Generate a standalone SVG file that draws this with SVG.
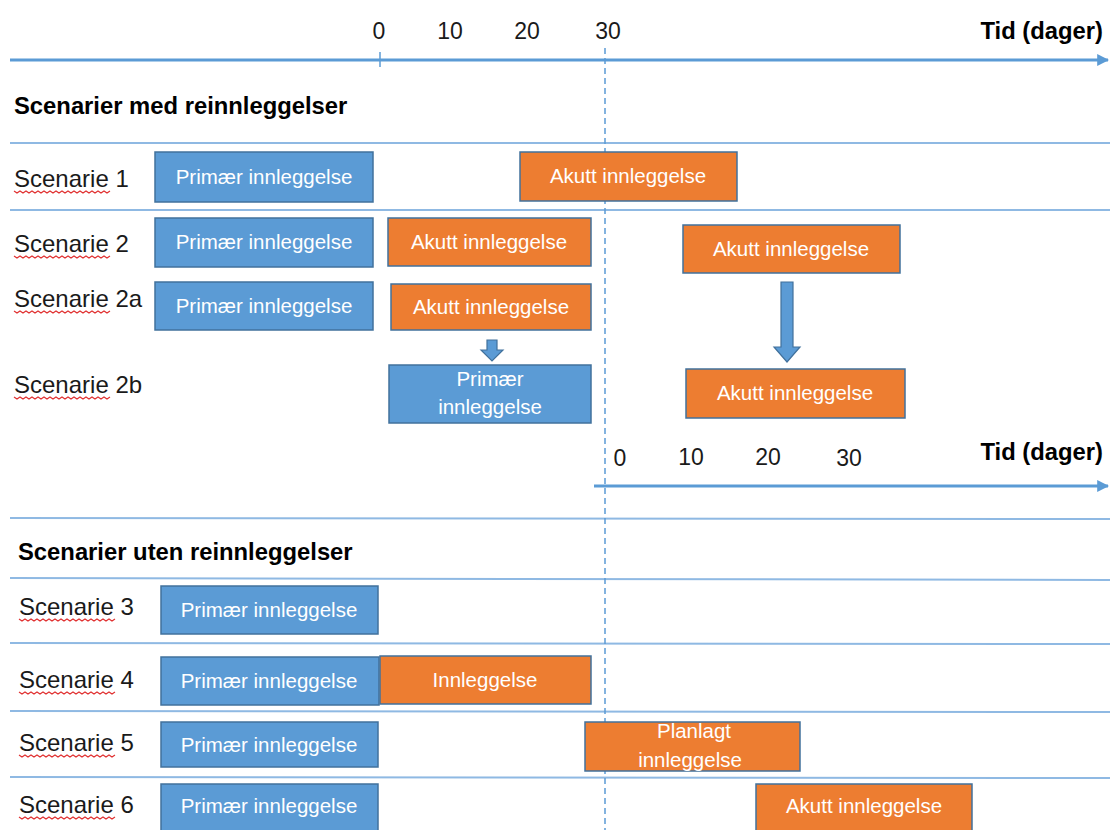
<svg xmlns="http://www.w3.org/2000/svg" xmlns:xlink="http://www.w3.org/1999/xlink" width="1110" height="830" viewBox="0 0 1110 830">
<style>
.axis{stroke:#5b9bd5;stroke-width:3;fill:none}
.sep{stroke:#8fb9e3;stroke-width:2;fill:none}
.dash{stroke:#5b9bd5;stroke-width:1.5;stroke-dasharray:6 4;fill:none}
.blue{fill:#5b9bd5;stroke:#41719c;stroke-width:1.5}
.orange{fill:#ed7d31;stroke:#41719c;stroke-width:1.5}
.bt{font-family:"Liberation Sans",Arial,sans-serif;font-size:20.5px;fill:#ffffff;text-anchor:middle}
.lbl{font-family:"Liberation Sans",Arial,sans-serif;font-size:24px;fill:#1a1a1a}
.tick{font-family:"Liberation Sans",Arial,sans-serif;font-size:23px;fill:#1a1a1a;text-anchor:middle}
.hd{font-family:"Liberation Sans",Arial,sans-serif;font-size:23.8px;font-weight:bold;fill:#000}
.wavy{stroke:#e03030;stroke-width:1.2;fill:none}
.barrow{fill:#5b9bd5;stroke:#41719c;stroke-width:1.2}
</style>
<defs>
<marker id="ah" viewBox="0 0 10 10" refX="9" refY="5" markerWidth="4" markerHeight="4" orient="auto">
<path d="M0,0 L10,5 L0,10 z" fill="#5b9bd5"/>
</marker>
<path id="wv" class="wavy" d="M0,0 l3,2 l3,-2 l3,2 l3,-2 l3,2 l3,-2 l3,2 l3,-2 l3,2 l3,-2 l3,2 l3,-2 l3,2 l3,-2 l3,2 l3,-2 l3,2 l3,-2 l3,2 l3,-2 l3,2 l3,-2 l3,2 l3,-2 l3,2 l3,-2 l3,2 l3,-2 l3,2 l3,-2 l3,2 l3,-2"/>
</defs>
<rect width="1110" height="830" fill="#ffffff"/>

<g id="axes">
<line class="axis" x1="10" y1="60" x2="1108" y2="60" marker-end="url(#ah)"/>
<line x1="380" y1="52" x2="380" y2="67" stroke="#5b9bd5" stroke-width="1.5"/>
<text class="tick" x="379" y="39">0</text>
<text class="tick" x="450" y="39">10</text>
<text class="tick" x="527" y="39">20</text>
<text class="tick" x="608" y="39">30</text>
<text class="hd" x="1103" y="39" text-anchor="end">Tid (dager)</text>
<line class="axis" x1="594" y1="486" x2="1108" y2="486" marker-end="url(#ah)"/>
<text class="tick" x="620" y="466">0</text>
<text class="tick" x="691" y="465">10</text>
<text class="tick" x="768" y="465">20</text>
<text class="tick" x="849" y="466">30</text>
<text class="hd" x="1103" y="460" text-anchor="end">Tid (dager)</text>
</g>

<g id="separators">
<line class="sep" x1="10" y1="143" x2="1110" y2="143"/>
<line class="sep" x1="10" y1="210" x2="1110" y2="210"/>
<line class="sep" x1="10" y1="518" x2="1110" y2="519"/>
<line class="sep" x1="10" y1="578" x2="1110" y2="580"/>
<line class="sep" x1="10" y1="643" x2="1110" y2="644"/>
<line class="sep" x1="10" y1="711" x2="1110" y2="712"/>
<line class="sep" x1="10" y1="777" x2="1110" y2="778"/>
<line class="dash" x1="605" y1="48" x2="605" y2="830"/>
</g>

<g id="headings">
<text class="hd" x="14" y="114">Scenarier med reinnleggelser</text>
<text class="hd" x="18" y="560">Scenarier uten reinnleggelser</text>
</g>

<g id="labels">
<text class="lbl" x="14" y="187">Scenarie 1</text><use href="#wv" x="14" y="191"/>
<text class="lbl" x="14" y="252">Scenarie 2</text><use href="#wv" x="14" y="256"/>
<text class="lbl" x="14" y="307">Scenarie 2a</text><use href="#wv" x="14" y="311"/>
<text class="lbl" x="14" y="393">Scenarie 2b</text><use href="#wv" x="14" y="397"/>
<text class="lbl" x="19" y="615">Scenarie 3</text><use href="#wv" x="19" y="619"/>
<text class="lbl" x="19" y="688">Scenarie 4</text><use href="#wv" x="19" y="692"/>
<text class="lbl" x="19" y="751">Scenarie 5</text><use href="#wv" x="19" y="755"/>
<text class="lbl" x="19" y="813">Scenarie 6</text><use href="#wv" x="19" y="817"/>
</g>

<g id="s1-primary"><rect class="blue" x="155" y="152" width="218" height="50"/><text class="bt" x="264" y="184">Primær innleggelse</text></g>
<g id="s1-acute"><rect class="orange" x="520" y="152" width="217" height="49"/><text class="bt" x="628" y="183">Akutt innleggelse</text></g>

<g id="s2-primary"><rect class="blue" x="155" y="218" width="218" height="49"/><text class="bt" x="264" y="249">Primær innleggelse</text></g>
<g id="s2-acute1"><rect class="orange" x="388" y="218" width="203" height="48"/><text class="bt" x="489" y="249">Akutt innleggelse</text></g>
<g id="s2-acute2"><rect class="orange" x="683" y="225" width="217" height="48"/><text class="bt" x="791" y="256">Akutt innleggelse</text></g>

<g id="s2a-primary"><rect class="blue" x="155" y="282" width="218" height="48"/><text class="bt" x="264" y="313">Primær innleggelse</text></g>
<g id="s2a-acute"><rect class="orange" x="391" y="284" width="200" height="46"/><text class="bt" x="491" y="314">Akutt innleggelse</text></g>

<g id="s2b-primary"><rect class="blue" x="389" y="365" width="202" height="58"/><text class="bt" x="490" y="386">Primær</text><text class="bt" x="490" y="414">innleggelse</text></g>
<g id="s2b-acute"><rect class="orange" x="686" y="369" width="219" height="49"/><text class="bt" x="795" y="400">Akutt innleggelse</text></g>

<g id="connectors">
<path class="barrow" d="M487,340 H497 V350 H503 L492,361 L481,350 H487 Z"/>
<path class="barrow" d="M781,282 H793 V347 H800 L787,362 L774,347 H781 Z"/>
</g>

<g id="s3-primary"><rect class="blue" x="161" y="586" width="217" height="48"/><text class="bt" x="269" y="617">Primær innleggelse</text></g>

<g id="s4-primary"><rect class="blue" x="161" y="657" width="218" height="48"/><text class="bt" x="269" y="688">Primær innleggelse</text></g>
<g id="s4-adm"><rect class="orange" x="380" y="656" width="211" height="48"/><text class="bt" x="485" y="687">Innleggelse</text></g>

<g id="s5-primary"><rect class="blue" x="161" y="722" width="217" height="45"/><text class="bt" x="269" y="752">Primær innleggelse</text></g>
<g id="s5-planned"><rect class="orange" x="585" y="722" width="215" height="49"/><text class="bt" x="694" y="738">Planlagt</text><text class="bt" x="690" y="767">innleggelse</text></g>

<g id="s6-primary"><rect class="blue" x="161" y="784" width="217" height="50"/><text class="bt" x="269" y="813">Primær innleggelse</text></g>
<g id="s6-acute"><rect class="orange" x="756" y="784" width="216" height="50"/><text class="bt" x="864" y="813">Akutt innleggelse</text></g>
</svg>
